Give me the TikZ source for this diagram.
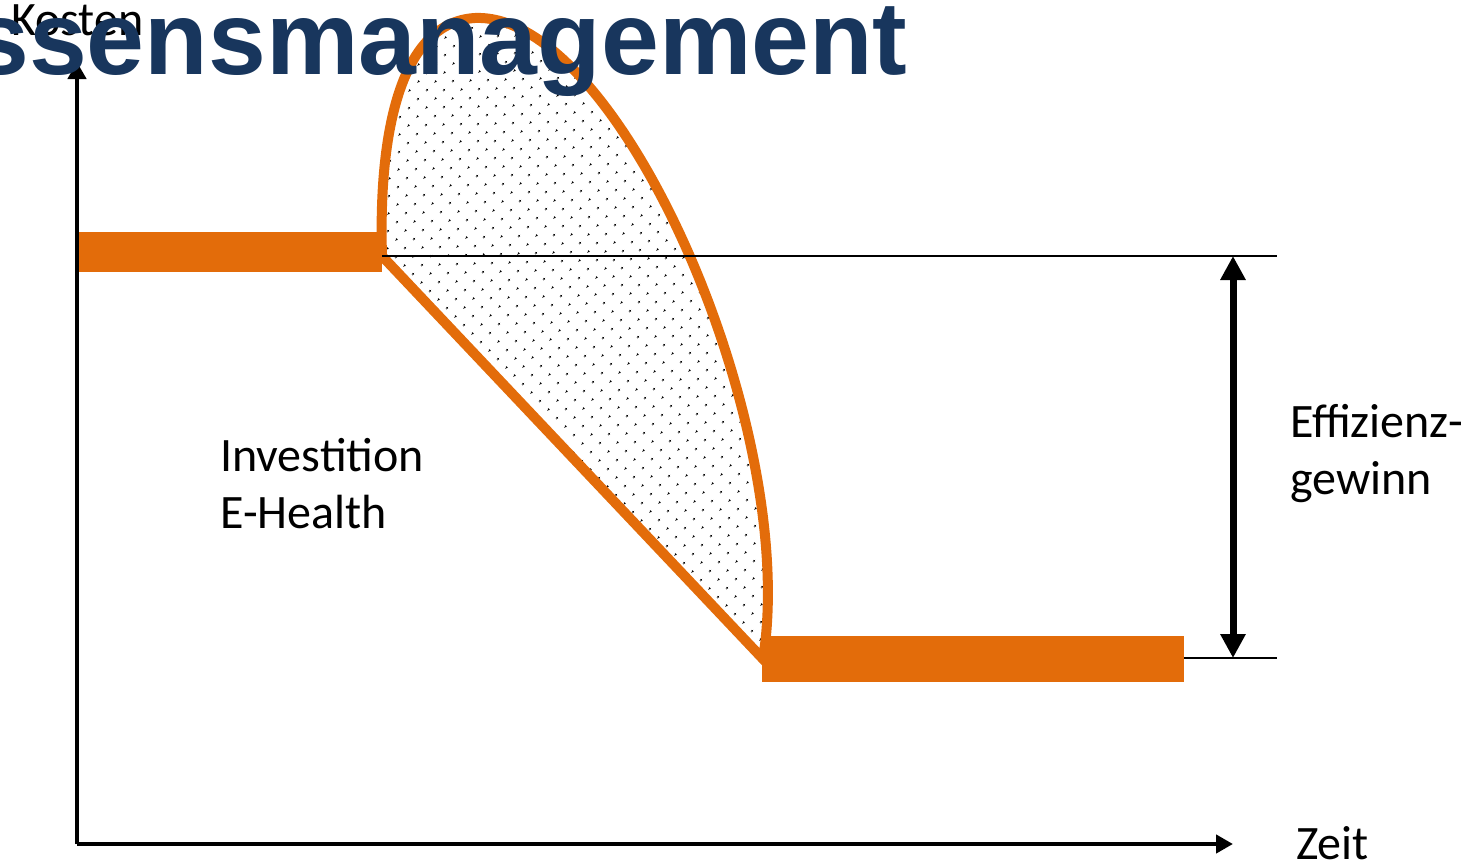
\documentclass[tikz,border=0pt]{standalone}
\usepackage{fontspec}
\setmainfont{Carlito}
\newfontfamily\titlefont{Liberation Sans}
\usetikzlibrary{arrows.meta,patterns.meta}
\definecolor{costorange}{RGB}{227,108,10}
\definecolor{titleblue}{RGB}{24,54,93}

\begin{document}
\begin{tikzpicture}[x=1pt,y=-1pt,
  axisline/.style={line width=4.5pt,-{Triangle[length=17pt,width=18pt]}},
  refline/.style={line width=2.5pt},
  gainarrow/.style={line width=7pt,{Triangle[length=24pt,width=24pt]}-{Triangle[length=24pt,width=24pt]}},
  txt/.style={inner sep=0pt,font=\fontsize{48}{57}\selectfont,align=left}]

\useasboundingbox (0,0) rectangle (1476,862);

% Coordinates
\coordinate (origin) at (77,844);
\coordinate (ytop) at (77,62);
\coordinate (xend) at (1233,844);
\coordinate (startcost) at (382,256);
\coordinate (endcost) at (763,659);
\coordinate (highref) at (1277,256);
\coordinate (lowbar) at (1184,658);
\coordinate (lowref) at (1277,658);
\coordinate (gaintop) at (1233,256);
\coordinate (gainbot) at (1233,658);

% Investment loop (dotted)
\draw[pattern={Dots[distance=13pt,angle=45,radius=1.3pt]}, draw=costorange, line width=10pt, line join=miter]
  (startcost) .. controls (378,120) and (405,22) .. (475,18)
  .. controls (620,12) and (800,430) .. (endcost) -- cycle;

% Cost levels
\fill[costorange] (77,232) rectangle (382,272);
\fill[costorange] (762,636) rectangle (1184,682);

% Reference lines
\draw[refline] (startcost) -- (highref);
\draw[refline] (lowbar) -- (lowref);

% Axes
\draw[axisline] (origin) -- (ytop);
\draw[axisline] (origin) -- (xend);

% Efficiency gain
\draw[gainarrow] (gaintop) -- (gainbot);

% Labels
\node[txt, anchor=base west] (kosten) at (11,35) {Kosten};
\node[txt, anchor=base west] (zeit) at (1296,859) {Zeit};
\node[txt, anchor=base west] (invest) at (220,528) {Investition\\E-Health};
\node[txt, anchor=base west] (gain) at (1290,494) {Effizienz-\\gewinn};

% Title
\node[anchor=base west, inner sep=0pt, text=titleblue,
  font=\titlefont\bfseries\fontsize{104}{110}\selectfont] (title) at (-29,74) {ssensmanagement};

\end{tikzpicture}
\end{document}
